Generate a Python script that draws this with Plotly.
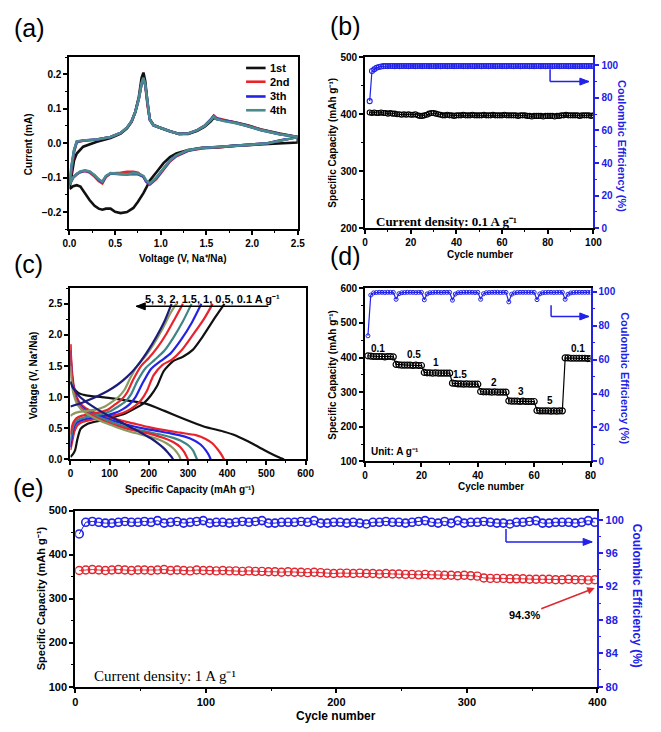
import plotly.graph_objects as go

W, H = 661, 732
FONT = "Liberation Sans"
SERIF = "Liberation Serif"
BLUE = "#2121e8"
RED = "#e0262e"

# ---------------- (a) CV data ----------------
cv_labels = ["1st", "2nd", "3th", "4th"]
cv_colors = ["#111111", "#e8232b", "#2323e6", "#4a8c8c"]
cv_v_anodic = [0.0, 0.02, 0.05, 0.08, 0.15, 0.3, 0.45, 0.56, 0.63, 0.68, 0.72, 0.76, 0.79, 0.81, 0.83, 0.855,
               0.88, 0.92, 0.99, 1.1, 1.2, 1.3, 1.4, 1.48, 1.55, 1.58, 1.61, 1.7, 1.81, 1.95, 2.1, 2.3, 2.5]
cv_v_cathodic = [2.5, 2.3, 2.17, 2.0, 1.81, 1.6, 1.45, 1.3, 1.17, 1.1, 1.03, 0.95, 0.88, 0.84, 0.81, 0.75,
                 0.7, 0.63, 0.56, 0.5, 0.45, 0.4, 0.36, 0.32, 0.275, 0.22, 0.17, 0.12, 0.08, 0.04, 0.02, 0.0]
cv1_an = [-0.133, -0.1, -0.05, -0.03, -0.01, 0.004, 0.015, 0.028, 0.043, 0.062, 0.09, 0.135, 0.19, 0.205, 0.18,
          0.115, 0.07, 0.053, 0.045, 0.035, 0.027, 0.027, 0.036, 0.048, 0.064, 0.074, 0.07, 0.066, 0.061, 0.052,
          0.04, 0.028, 0.018]
cv1_ca = [0.002, 0.0, -0.002, -0.004, -0.007, -0.013, -0.013, -0.02, -0.03, -0.04, -0.058, -0.085, -0.108, -0.13,
          -0.145, -0.17, -0.188, -0.2, -0.203, -0.199, -0.19, -0.19, -0.193, -0.19, -0.182, -0.165, -0.145,
          -0.126, -0.122, -0.125, -0.129, -0.133]
cv2_an = [-0.12, -0.075, -0.025, 0.003, 0.007, 0.011, 0.018, 0.03, 0.045, 0.063, 0.09, 0.13, 0.172, 0.188, 0.168,
          0.11, 0.068, 0.052, 0.045, 0.035, 0.027, 0.028, 0.038, 0.051, 0.07, 0.08, 0.073, 0.067, 0.061, 0.051,
          0.039, 0.027, 0.018]
cv2_ca = [0.018, 0.008, 0.0, -0.004, -0.008, -0.012, -0.015, -0.022, -0.038, -0.053, -0.078, -0.104, -0.12,
          -0.112, -0.098, -0.086, -0.083, -0.083, -0.086, -0.086, -0.088, -0.098, -0.117, -0.11, -0.097, -0.085,
          -0.081, -0.084, -0.09, -0.1, -0.108, -0.12]
cv3_an = [-0.12, -0.072, -0.022, 0.004, 0.008, 0.011, 0.018, 0.03, 0.045, 0.064, 0.09, 0.13, 0.174, 0.19, 0.17,
          0.11, 0.068, 0.052, 0.045, 0.035, 0.027, 0.028, 0.038, 0.05, 0.069, 0.079, 0.071, 0.065, 0.06, 0.05,
          0.038, 0.026, 0.018]
cv3_ca = [0.018, 0.008, 0.0, -0.004, -0.008, -0.012, -0.014, -0.021, -0.036, -0.051, -0.076, -0.101, -0.118,
          -0.11, -0.097, -0.09, -0.089, -0.091, -0.09, -0.089, -0.088, -0.096, -0.113, -0.106, -0.094, -0.083,
          -0.08, -0.083, -0.09, -0.1, -0.108, -0.12]
cv4_an = [-0.12, -0.07, -0.02, 0.005, 0.008, 0.011, 0.018, 0.03, 0.045, 0.064, 0.09, 0.13, 0.175, 0.19, 0.17,
          0.11, 0.068, 0.052, 0.045, 0.035, 0.027, 0.028, 0.038, 0.05, 0.068, 0.078, 0.07, 0.064, 0.059, 0.05,
          0.038, 0.026, 0.018]
cv4_ca = [0.018, 0.008, 0.0, -0.004, -0.008, -0.012, -0.014, -0.02, -0.035, -0.05, -0.075, -0.1, -0.117,
          -0.108, -0.095, -0.088, -0.087, -0.09, -0.089, -0.088, -0.087, -0.095, -0.112, -0.105, -0.093, -0.082,
          -0.079, -0.082, -0.089, -0.1, -0.108, -0.12]

# ---------------- (b) cycling at 0.1 A/g ----------------
b_start_cycle = 2
b_capacity = [403, 402, 403, 402, 402, 403, 402, 402, 401, 402, 401, 401,
              400, 400, 399, 400, 399, 400, 399, 399, 400,
              398, 397, 397, 398, 399,
              401, 402, 402, 401, 400,
              399, 398, 398, 399, 398, 398, 397, 398, 398, 398, 399, 398, 398, 398, 399, 398, 398, 398, 398,
              399, 398, 398, 398, 399, 398, 398, 398, 398, 399, 398, 398, 398, 398, 398, 397, 398, 398, 398,
              397, 397, 396, 397, 397, 397, 397, 396, 397, 397, 397, 397, 396, 397, 397,
              398, 398, 399, 398, 398, 398, 398, 398, 397, 398, 398, 398, 398, 397, 398]
b_ce = [78.0, 96.5, 97.5, 98.5, 99.0, 99.3,
        99.5, 99.6, 99.5, 99.6, 99.6, 99.5, 99.6, 99.5, 99.6, 99.6,
        99.6, 99.5, 99.6, 99.6, 99.5, 99.6, 99.6, 99.5, 99.6, 99.6,
        99.5, 99.6, 99.6, 99.5, 99.6, 99.5, 99.6, 99.6, 99.5, 99.6,
        99.6, 99.5, 99.6, 99.6, 99.6, 99.5, 99.6, 99.5, 99.6, 99.6,
        99.5, 99.6, 99.6, 99.5, 99.6, 99.6, 99.5, 99.6, 99.6, 99.5,
        99.6, 99.6, 99.5, 99.6, 99.5, 99.6, 99.6, 99.5, 99.6, 99.6,
        99.5, 99.6, 99.6, 99.6, 99.5, 99.6, 99.5, 99.6, 99.6, 99.5,
        99.6, 99.5, 99.6, 99.6, 99.5, 99.6, 99.6, 99.5, 99.6, 99.6,
        99.6, 99.5, 99.6, 99.6, 99.5, 99.6, 99.5, 99.6, 99.6, 99.5,
        99.6, 99.6, 99.5]

# ---------------- (c) charge / discharge profiles ----------------
c_rates = ["0.1", "0.5", "1", "1.5", "2", "3", "5"]
c_colors = ["#111111", "#e8232b", "#2323e6", "#3f8585", "#e8232b", "#8a9a62", "#1c1c7a"]
ch_01_cap = [0, 6, 12, 18, 26, 43, 72, 110, 140, 165, 188, 204, 221, 238, 262, 287, 312, 337, 370, 393]
ch_01_v = [0.04, 0.08, 0.15, 0.33, 0.49, 0.57, 0.62, 0.68, 0.74, 0.82, 0.91, 1.02, 1.18, 1.42, 1.58, 1.65, 1.76, 1.97, 2.29, 2.5]
ch_05_cap = [0, 5, 10, 18, 30, 55, 90, 120, 145, 165, 180, 195, 212, 235, 258, 283, 310, 340, 363]
ch_05_v = [0.15, 0.3, 0.45, 0.55, 0.6, 0.64, 0.68, 0.72, 0.78, 0.86, 0.95, 1.1, 1.35, 1.52, 1.6, 1.75, 1.98, 2.25, 2.5]
ch_1_cap = [0, 4, 8, 15, 28, 55, 85, 110, 132, 150, 166, 182, 205, 228, 255, 282, 310, 334]
ch_1_v = [0.2, 0.38, 0.5, 0.58, 0.63, 0.67, 0.7, 0.74, 0.8, 0.88, 1.0, 1.2, 1.45, 1.57, 1.7, 1.92, 2.2, 2.5]
ch_15_cap = [0, 4, 8, 15, 28, 55, 80, 103, 122, 140, 155, 170, 192, 215, 240, 262, 287, 309]
ch_15_v = [0.3, 0.45, 0.55, 0.62, 0.66, 0.7, 0.73, 0.78, 0.85, 0.93, 1.05, 1.25, 1.47, 1.6, 1.75, 1.95, 2.22, 2.5]
ch_2_cap = [0, 4, 8, 15, 28, 50, 75, 95, 113, 130, 145, 160, 180, 200, 222, 245, 267, 287]
ch_2_v = [0.4, 0.53, 0.6, 0.66, 0.7, 0.73, 0.76, 0.8, 0.88, 0.96, 1.08, 1.28, 1.5, 1.63, 1.8, 2.02, 2.27, 2.5]
ch_3_cap = [0, 4, 10, 20, 40, 65, 88, 105, 122, 138, 152, 170, 190, 212, 235, 255, 270]
ch_3_v = [0.7, 0.72, 0.74, 0.76, 0.78, 0.8, 0.85, 0.92, 1.0, 1.12, 1.3, 1.5, 1.65, 1.85, 2.1, 2.35, 2.5]
ch_5_cap = [0, 10, 25, 45, 70, 95, 120, 145, 170, 195, 220, 240, 258]
ch_5_v = [0.85, 0.87, 0.9, 0.95, 1.02, 1.1, 1.2, 1.33, 1.5, 1.72, 1.98, 2.22, 2.5]
dis_01_cap = [0, 8, 20, 40, 80, 130, 190, 240, 290, 340, 390, 420, 450, 480, 510, 530, 545]
dis_01_v = [1.25, 1.15, 1.07, 1.03, 1.0, 0.96, 0.9, 0.78, 0.65, 0.53, 0.45, 0.39, 0.3, 0.2, 0.1, 0.04, 0.0]
dis_05_cap = [0, 3, 8, 15, 25, 40, 60, 85, 120, 160, 200, 240, 280, 320, 345, 362, 376, 386, 392]
dis_05_v = [1.85, 1.5, 1.2, 1.02, 0.9, 0.82, 0.76, 0.7, 0.64, 0.58, 0.52, 0.47, 0.43, 0.39, 0.33, 0.26, 0.16, 0.07, 0.0]
dis_1_cap = [0, 3, 8, 15, 25, 40, 60, 85, 115, 150, 185, 220, 255, 290, 315, 332, 345, 353, 358]
dis_1_v = [1.75, 1.42, 1.15, 0.98, 0.87, 0.79, 0.73, 0.67, 0.61, 0.55, 0.5, 0.46, 0.42, 0.37, 0.31, 0.24, 0.15, 0.07, 0.0]
dis_15_cap = [0, 3, 8, 15, 25, 40, 60, 85, 110, 140, 170, 200, 230, 260, 285, 302, 313, 319, 323]
dis_15_v = [1.6, 1.33, 1.1, 0.95, 0.85, 0.77, 0.71, 0.65, 0.59, 0.53, 0.48, 0.44, 0.4, 0.35, 0.29, 0.22, 0.14, 0.06, 0.0]
dis_2_cap = [0, 3, 8, 15, 25, 40, 60, 80, 105, 130, 160, 190, 215, 240, 262, 280, 290, 296, 300]
dis_2_v = [1.85, 1.4, 1.12, 0.95, 0.84, 0.76, 0.69, 0.63, 0.57, 0.52, 0.47, 0.43, 0.39, 0.34, 0.28, 0.2, 0.12, 0.05, 0.0]
dis_3_cap = [0, 3, 8, 15, 25, 40, 60, 80, 100, 125, 150, 175, 200, 225, 245, 262, 272, 278, 281]
dis_3_v = [1.5, 1.25, 1.05, 0.92, 0.82, 0.74, 0.67, 0.61, 0.56, 0.5, 0.45, 0.41, 0.37, 0.32, 0.26, 0.18, 0.11, 0.05, 0.0]
dis_5_cap = [0, 5, 12, 22, 35, 50, 70, 95, 120, 150, 180, 205, 225, 240, 250, 258, 262]
dis_5_v = [1.25, 1.17, 1.1, 1.02, 0.95, 0.88, 0.8, 0.71, 0.63, 0.53, 0.43, 0.34, 0.25, 0.17, 0.1, 0.04, 0.0]

# ---------------- (d) rate performance ----------------
d_capacity = [405, 404, 403, 403, 403, 403, 402, 403, 403, 402,
              380, 379, 378, 378, 378, 378, 377, 378, 377, 377,
              357, 356, 356, 355, 356, 355, 355, 355, 355, 355,
              326, 325, 324, 324, 323, 324, 323, 323, 323, 323,
              302, 301, 301, 301, 300, 301, 300, 300, 300, 300,
              275, 274, 274, 274, 273, 274, 273, 273, 273, 273,
              247, 246, 246, 246, 246, 245, 246, 245, 246, 246,
              399, 399, 398, 398, 398, 398, 398, 398, 397, 397]
d_ce = [74.0, 98.0, 99.3, 99.5, 99.6, 99.6, 99.5, 99.6, 99.6, 99.6,
        95.5, 98.8, 99.4, 99.5, 99.6, 99.6, 99.6, 99.5, 99.6, 99.6,
        95.2, 98.7, 99.4, 99.5, 99.6, 99.6, 99.5, 99.6, 99.6, 99.6,
        95.0, 98.6, 99.4, 99.5, 99.6, 99.6, 99.6, 99.6, 99.5, 99.6,
        95.5, 98.8, 99.4, 99.5, 99.6, 99.6, 99.6, 99.5, 99.6, 99.6,
        94.0, 98.5, 99.3, 99.5, 99.6, 99.6, 99.6, 99.6, 99.6, 99.6,
        95.3, 98.7, 99.4, 99.5, 99.6, 99.6, 99.5, 99.6, 99.6, 99.6,
        95.5, 98.5, 99.3, 99.5, 99.6, 99.6, 99.6, 99.6, 99.6, 99.6]
d_rate_labels = ["0.1", "0.5", "1", "1.5", "2", "3", "5", "0.1"]
d_label_cycles = [4.5, 17.3, 25.2, 33.8, 45.6, 55.4, 65.6, 75.4]
d_label_values = [427, 408, 386, 350, 329, 301, 277, 427]

# ---------------- (e) long cycling at 1 A/g ----------------
e_start_cycle, e_step = 3, 5
e_capacity = [364, 365, 366, 365, 364, 365, 366, 365, 364, 365, 365, 364, 365, 366, 364, 365, 364, 363,
              365, 364, 364, 363, 364, 363, 363, 362, 363, 362, 362, 361,
              361, 360, 361, 360, 360, 359, 360, 359, 358, 357,
              358, 358, 357, 358, 357, 357, 356, 357, 356, 356,
              355, 355, 354, 355, 354, 354, 353, 353, 352, 353, 352, 351,
              347, 346, 346, 346, 345, 345, 345, 344, 344, 344, 344, 343, 343, 344, 343, 343, 342, 343]
e_ce = [98.3, 99.7, 99.8, 99.7, 99.6, 99.6, 99.7, 99.8, 99.7, 99.7, 99.8, 99.7, 99.9, 99.6, 99.7, 99.8,
        99.6, 99.7, 99.8, 99.9, 99.6, 99.7, 99.7, 99.6, 99.7, 99.8, 99.7, 99.8, 99.9, 99.6, 99.6, 99.7,
        99.7, 99.7, 99.8, 99.7, 99.9, 99.6, 99.6, 99.7, 99.7, 99.6, 99.7, 99.6, 99.5, 99.7, 99.7, 99.8,
        99.7, 99.7, 99.6, 99.7, 99.8, 99.9, 99.7, 99.6, 99.8, 99.6, 99.9, 99.6, 99.7, 99.7, 99.8, 99.7,
        99.6, 99.6, 99.5, 99.7, 99.7, 99.8, 99.9, 99.6, 99.6, 99.7, 99.7, 99.7, 99.6, 99.7, 99.9, 99.7]

# text strings (unicode superscripts)
T_VOLT = "Voltage (V, Na\u207a/Na)"
T_CAP = "Specific Capacity (mAh g\u207b\u00b9)"
T_CE = "Coulombic Efficiency (%)"
T_CYC = "Cycle number"


def px(x, y):
    return x / W, 1 - y / H


fig = go.Figure()

# (a)
cv_an = [cv1_an, cv2_an, cv3_an, cv4_an]
cv_ca = [cv1_ca, cv2_ca, cv3_ca, cv4_ca]
for lab, col, ia, ic in zip(cv_labels, cv_colors, cv_an, cv_ca):
    fig.add_trace(go.Scatter(x=cv_v_anodic + cv_v_cathodic, y=ia + ic, mode="lines", name=lab,
                             line=dict(color=col, width=2.6), xaxis="x", yaxis="y", showlegend=False))

# (b)
b_cycles = list(range(b_start_cycle, b_start_cycle + len(b_capacity)))
b_ce_cycles = list(range(b_start_cycle, b_start_cycle + len(b_ce)))
fig.add_trace(go.Scatter(x=b_cycles, y=b_capacity, mode="lines+markers", showlegend=False,
                         line=dict(color="black", width=1),
                         marker=dict(symbol="circle-open", size=5, color="black", line=dict(width=1.1)),
                         xaxis="x2", yaxis="y2"))
fig.add_trace(go.Scatter(x=b_ce_cycles, y=b_ce, mode="lines+markers", showlegend=False,
                         line=dict(color=BLUE, width=1.2),
                         marker=dict(symbol="circle-open", size=5, color=BLUE, line=dict(width=1.1)),
                         xaxis="x2", yaxis="y3"))

# (c)
c_charge = [(ch_01_cap, ch_01_v), (ch_05_cap, ch_05_v), (ch_1_cap, ch_1_v), (ch_15_cap, ch_15_v),
            (ch_2_cap, ch_2_v), (ch_3_cap, ch_3_v), (ch_5_cap, ch_5_v)]
c_dis = [(dis_01_cap, dis_01_v), (dis_05_cap, dis_05_v), (dis_1_cap, dis_1_v), (dis_15_cap, dis_15_v),
         (dis_2_cap, dis_2_v), (dis_3_cap, dis_3_v), (dis_5_cap, dis_5_v)]
for rate, col, (cc, cvv), (dc, dv) in zip(c_rates, c_colors, c_charge, c_dis):
    for xs, ys in ((dc, dv), (cc, cvv)):
        fig.add_trace(go.Scatter(x=xs, y=ys, mode="lines", line=dict(color=col, width=2.2, shape="spline",
                                 smoothing=0.6), showlegend=False, name=rate + " A/g", xaxis="x3", yaxis="y4"))

# (d)
d_cycles = list(range(1, len(d_capacity) + 1))
d_ce_cycles = list(range(1, len(d_ce) + 1))
fig.add_trace(go.Scatter(x=d_cycles, y=d_capacity, mode="lines+markers", showlegend=False,
                         line=dict(color="black", width=1.2),
                         marker=dict(symbol="circle-open", size=6, color="black", line=dict(width=1.2)),
                         xaxis="x4", yaxis="y5"))
fig.add_trace(go.Scatter(x=d_ce_cycles, y=d_ce, mode="lines+markers", showlegend=False,
                         line=dict(color=BLUE, width=1.2),
                         marker=dict(symbol="circle-open", size=4, color=BLUE, line=dict(width=1)),
                         xaxis="x4", yaxis="y6"))

# (e)
e_cycles = [e_start_cycle + e_step * i for i in range(len(e_capacity))]
e_ce_cycles = [e_start_cycle + e_step * i for i in range(len(e_ce))]
fig.add_trace(go.Scatter(x=e_cycles, y=e_capacity, mode="lines+markers", showlegend=False,
                         line=dict(color=RED, width=1),
                         marker=dict(symbol="circle-open", size=8, color=RED, line=dict(width=1.4)),
                         xaxis="x5", yaxis="y7"))
fig.add_trace(go.Scatter(x=e_ce_cycles, y=e_ce, mode="lines+markers", showlegend=False,
                         line=dict(color=BLUE, width=1),
                         marker=dict(symbol="circle-open", size=8, color=BLUE, line=dict(width=1.6)),
                         xaxis="x5", yaxis="y8"))


def axis(rng, dtick, minor, dom, anchor, color="black", mirror=True, fmt=None, size=10, tick0=None,
         side=None, overlaying=None):
    d = dict(range=rng, dtick=dtick, showline=True, linecolor=color, linewidth=2, mirror=mirror,
             ticks="outside", ticklen=4, tickwidth=1.5, tickcolor=color,
             minor=dict(dtick=minor, ticks="outside", ticklen=2, tickwidth=1, tickcolor=color),
             showgrid=False, zeroline=False, anchor=anchor,
             tickfont=dict(family=FONT, size=size, color=color, weight="bold"))
    if dom is not None:
        d["domain"] = dom
    if fmt:
        d["tickformat"] = fmt
    if tick0 is not None:
        d["tick0"] = tick0
    if side:
        d["side"] = side
    if overlaying:
        d["overlaying"] = overlaying
    return d


def dx(a, b):
    return [a / W, b / W]


def dy(top, bottom):
    return [1 - bottom / H, 1 - top / H]


layout = dict(
    width=W, height=H, margin=dict(l=0, r=0, t=0, b=0), paper_bgcolor="white", plot_bgcolor="white",
    font=dict(family=FONT, color="black", size=10), showlegend=False,
    xaxis=axis([0, 2.5], 0.5, 0.25, dx(64, 298), "y", fmt=".1f"),
    yaxis=axis([-0.25, 0.25], 0.1, 0.05, dy(52, 227), "x", fmt=".1f", tick0=0),
    xaxis2=axis([0, 100], 20, 10, dx(367, 601), "y2"),
    yaxis2=axis([200, 500], 100, 50, dy(52, 226), "x2", mirror=False),
    yaxis3=axis([0, 105], 20, 10, None, "x2", color=BLUE, mirror=False, side="right", overlaying="y2", tick0=0),
    xaxis3=axis([0, 600], 100, 50, dx(65, 306), "y4"),
    yaxis4=axis([0, 2.75], 0.5, 0.25, dy(287, 461), "x3", fmt=".1f", tick0=0),
    xaxis4=axis([0, 80], 20, 10, dx(367, 598), "y5"),
    yaxis5=axis([100, 600], 100, 50, dy(287, 463), "x4", mirror=False),
    yaxis6=axis([0, 102], 20, 10, None, "x4", color=BLUE, mirror=False, side="right", overlaying="y5", tick0=0),
    xaxis5=axis([0, 400], 100, 50, dx(70, 605), "y7", size=11),
    yaxis7=axis([100, 500], 100, 50, dy(513, 692), "x5", mirror=False, size=11),
    yaxis8=axis([80, 101.1], 4, 2, None, "x5", color=BLUE, mirror=False, side="right", overlaying="y7",
                tick0=80, size=11),
)
fig.update_layout(**layout)

ann = []
shapes = []


def label(text, x, y, size=10, color="black", angle=0, bold=True, family=FONT, xanchor="center"):
    xp, yp = px(x, y)
    ann.append(dict(text=text, x=xp, y=yp, xref="paper", yref="paper", showarrow=False, textangle=angle,
                    xanchor=xanchor, yanchor="middle",
                    font=dict(family=family, size=size, color=color, weight="bold" if bold else "normal")))


def arrow(x0, x1, y, xref, yref, color):
    shapes.append(dict(type="line", x0=x0, x1=x1, y0=y, y1=y, xref=xref, yref=yref,
                       line=dict(color=color, width=1.5)))
    tip = "M 0,0 L -9,3.5 L -9,-3.5 Z" if x1 > x0 else "M 0,0 L 9,3.5 L 9,-3.5 Z"
    shapes.append(dict(type="path", path=tip, xref=xref, yref=yref, xsizemode="pixel", ysizemode="pixel",
                       xanchor=x1, yanchor=y, fillcolor=color, line=dict(color=color, width=1)))


# panel letters
label("(a)", 23, 22, size=25, bold=False)
label("(b)", 347, 20, size=25, bold=False)
label("(c)", 22, 262, size=25, bold=False)
label("(d)", 347, 254, size=25, bold=False)
label("(e)", 22, 490, size=25, bold=False)

# manual legend for (a)
leg_rows = [63, 77, 92, 106]
for lab, col, yy in zip(cv_labels, cv_colors, leg_rows):
    shapes.append(dict(type="line", xref="paper", yref="paper", x0=245 / W, x1=265 / W,
                       y0=1 - yy / H, y1=1 - yy / H, line=dict(color=col, width=2.6)))
    label(lab, 267, yy, size=11, xanchor="left")

# axis titles
label(T_VOLT, 180, 257)
label("Current (mA)", 22, 140, angle=-90)
label(T_CAP, 334, 139, angle=-90)
label(T_CE, 631, 142, size=11, color=BLUE, angle=90)
label(T_CYC, 485, 253)
label(T_CAP, 188, 492)
label(T_VOLT, 27, 376, angle=-90)
label(T_CAP, 334, 375, angle=-90)
label(T_CE, 634, 378, size=11, color=BLUE, angle=90)
label(T_CYC, 496, 488)
label(T_CAP, 35, 602, size=11, angle=-90)
label(T_CE, 645, 600, size=12, color=BLUE, angle=90)
label(T_CYC, 337, 722, size=12)

# in-plot texts
ann.append(dict(text="Current density: 0.1 A g\u207b\u00b9", x=4, y=212, xref="x2", yref="y2",
                xanchor="left", yanchor="middle", showarrow=False,
                font=dict(family=SERIF, size=13, color="black", weight="bold")))
ann.append(dict(text="Unit: A g\u207b\u00b9", x=1.5, y=128, xref="x4", yref="y5", xanchor="left",
                yanchor="middle", showarrow=False, font=dict(family=FONT, size=10, weight="bold")))
for t, cx, cy in zip(d_rate_labels, d_label_cycles, d_label_values):
    ann.append(dict(text=t, x=cx, y=cy, xref="x4", yref="y5", showarrow=False,
                    font=dict(family=FONT, size=10, weight="bold")))
ann.append(dict(text="Current density: 1 A g\u207b\u00b9", x=13, y=125, xref="x5", yref="y7",
                xanchor="left", yanchor="middle", showarrow=False,
                font=dict(family=SERIF, size=15, color="black")))
ann.append(dict(text="5, 3, 2, 1.5, 1, 0.5, 0.1 A g\u207b\u00b9", x=362, y=2.57, xref="x3", yref="y4",
                showarrow=False, font=dict(family=FONT, size=11, weight="bold")))
ann.append(dict(text="94.3%", x=398, y=324, ax=344, ay=262, xref="x5", yref="y7", axref="x5", ayref="y7",
                showarrow=True, arrowhead=2, arrowsize=1, arrowwidth=1.5, arrowcolor=RED,
                font=dict(family=FONT, size=11, weight="bold")))

# arrows
arrow(505, 168, 2.46, "x3", "y4", "black")
shapes.append(dict(type="line", x0=81, x1=81, y0=97.5, y1=90, xref="x2", yref="y3",
                   line=dict(color=BLUE, width=1.5)))
arrow(81, 98, 90, "x2", "y3", BLUE)
shapes.append(dict(type="line", x0=66, x1=66, y0=92, y1=85.4, xref="x4", yref="y6",
                   line=dict(color=BLUE, width=1.5)))
arrow(66, 79.4, 85.4, "x4", "y6", BLUE)
shapes.append(dict(type="line", x0=330, x1=330, y0=98.9, y1=97.35, xref="x5", yref="y8",
                   line=dict(color=BLUE, width=1.5)))
arrow(330, 396, 97.35, "x5", "y8", BLUE)

fig.update_layout(annotations=ann, shapes=shapes)

fig.write_html("out.html", config={"displayModeBar": False},
               post_script="document.body.style.margin='0';")
